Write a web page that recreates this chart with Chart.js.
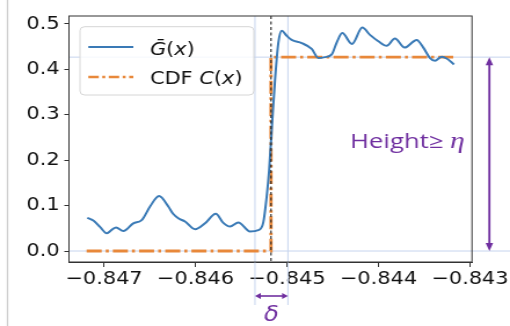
<!DOCTYPE html>
<html><head><meta charset="utf-8">
<script src="https://cdn.jsdelivr.net/npm/chart.js@4.4.0/dist/chart.umd.min.js"></script>
<style>
html,body{margin:0;padding:0;background:#fff;overflow:hidden}
#wrap{width:510px;height:326px;overflow:hidden}
canvas{display:block;transform:scaleX(1.159091);transform-origin:0 0}
</style></head><body><div id="wrap"><canvas id="c" width="440" height="326"></canvas></div>
<script>
// ---- data ----
const gX = [-0.847183,-0.847117,-0.847044,-0.846970,-0.846913,-0.846869,-0.846789,-0.846680,-0.846588,-0.846497,-0.846399,-0.846297,-0.846245,-0.846188,-0.846115,-0.846005,-0.845896,-0.845779,-0.845696,-0.845623,-0.845532,-0.845404,-0.845314,-0.845259,-0.845222,-0.845195,-0.845167,-0.845131,-0.845095,-0.845058,-0.845003,-0.844949,-0.844839,-0.844730,-0.844658,-0.844585,-0.844511,-0.844457,-0.844396,-0.844290,-0.844177,-0.844093,-0.844002,-0.843910,-0.843820,-0.843715,-0.843582,-0.843510,-0.843437,-0.843383,-0.843309,-0.843255,-0.843175];
const gY = [0.073,0.067,0.053,0.039,0.047,0.052,0.044,0.061,0.068,0.098,0.121,0.098,0.082,0.072,0.065,0.048,0.061,0.082,0.062,0.054,0.063,0.043,0.046,0.063,0.120,0.179,0.267,0.377,0.458,0.485,0.474,0.465,0.458,0.445,0.425,0.427,0.433,0.459,0.480,0.456,0.492,0.476,0.462,0.452,0.468,0.448,0.465,0.448,0.425,0.419,0.428,0.424,0.411];
const cdfX = [-0.84719,-0.845175,-0.845175,-0.84316];
const cdfY = [0,0,0.427,0.427];
const xTicks = [-0.847,-0.846,-0.845,-0.844,-0.843];
const yTicks = [0,0.1,0.2,0.3,0.4,0.5];
const xRange = [-0.847383,-0.842978];
const yRange = [-0.0242,0.5176];
const stepX = -0.845175;
const deltaLo = -0.84535, deltaHi = -0.84499;
const heightLevel = 0.427;
const seriesNames = ['Ḡ(x)','CDF C(x)'];
const heightLabel = 'Height≥ ';
const etaLabel = 'η';
const deltaLabel = 'δ';

const BLUE = '#3a7ab6', ORANGE = '#e8883a', PURPLE = '#7030a0', LIGHT = '#c6d4ee';

function arrowHead(ctx, x, y, dx, dy, len, w) {
  const nx = -dy, ny = dx;
  ctx.beginPath();
  ctx.moveTo(x, y);
  ctx.lineTo(x - dx*len + nx*w/2, y - dy*len + ny*w/2);
  ctx.lineTo(x - dx*len - nx*w/2, y - dy*len - ny*w/2);
  ctx.closePath(); ctx.fill();
}

const deco = {
  id: 'deco',
  beforeDatasetsDraw(chart) {
    const {ctx, chartArea: ca, scales: {x, y}} = chart;
    ctx.save();
    // page edge line
    ctx.strokeStyle = '#cccccc'; ctx.lineWidth = 1.3;
    ctx.beginPath(); ctx.moveTo(6.5, 0); ctx.lineTo(6.5, 326); ctx.stroke();
    // light reference lines
    ctx.strokeStyle = LIGHT; ctx.lineWidth = 1;
    const yh = y.getPixelForValue(heightLevel), y0 = y.getPixelForValue(0);
    ctx.beginPath();
    ctx.moveTo(ca.left, yh); ctx.lineTo(440, yh);
    ctx.moveTo(ca.left, y0); ctx.lineTo(440, y0);
    for (const v of [deltaLo, deltaHi]) {
      const px = x.getPixelForValue(v);
      ctx.moveTo(px, ca.top); ctx.lineTo(px, 305);
    }
    ctx.stroke();
    ctx.restore();
  },
  afterDatasetsDraw(chart) {
    const {ctx, chartArea: ca, scales: {x, y}} = chart;
    ctx.save();
    // black dashed step line
    const sx = x.getPixelForValue(stepX);
    ctx.strokeStyle = '#222'; ctx.lineWidth = 1.1; ctx.setLineDash([3, 2.5]);
    ctx.beginPath(); ctx.moveTo(sx, ca.top); ctx.lineTo(sx, ca.bottom); ctx.stroke();
    ctx.setLineDash([]);
    // frame
    ctx.strokeStyle = '#333'; ctx.lineWidth = 1;
    ctx.strokeRect(ca.left, ca.top, ca.right - ca.left, ca.bottom - ca.top);
    // legend
    const lx = ca.left + 9.5, ly = ca.top + 10.7, lw = 150, lh = 68.3;
    ctx.beginPath();
    ctx.roundRect(lx, ly, lw, lh, 4);
    ctx.fillStyle = 'rgba(255,255,255,0.8)'; ctx.fill();
    ctx.strokeStyle = '#d6d6d6'; ctx.lineWidth = 1; ctx.stroke();
    const r1 = 47, r2 = 77;
    ctx.strokeStyle = BLUE; ctx.lineWidth = 1.8;
    ctx.beginPath(); ctx.moveTo(76.2, r1); ctx.lineTo(115, r1); ctx.stroke();
    ctx.strokeStyle = ORANGE; ctx.lineWidth = 2.6; ctx.setLineDash([9, 3, 2.6, 3]);
    ctx.beginPath(); ctx.moveTo(76.2, r2); ctx.lineTo(115, r2); ctx.stroke();
    ctx.setLineDash([]);
    ctx.fillStyle = '#111'; ctx.textBaseline = 'alphabetic';
    const up = '18px "DejaVu Sans"', it = 'italic 18px "DejaVu Sans"';
    const parts = (arr, x0, yb) => { let cx = x0; for (const [t, f] of arr) { ctx.font = f; ctx.fillText(t, cx, yb); cx += ctx.measureText(t).width; } };
    parts([['Ḡ', it], ['(', up], ['x', it], [')', up]], 129.4, r1 + 7.5);
    parts([['CDF ', up], ['C', it], ['(', up], ['x', it], [')', up]], 129.4, r2 + 6.5);
    // purple height arrow
    const ax = ca.right + 15;
    const yh = y.getPixelForValue(heightLevel), y0 = y.getPixelForValue(0);
    ctx.strokeStyle = PURPLE; ctx.fillStyle = PURPLE; ctx.lineWidth = 1.8;
    ctx.beginPath(); ctx.moveTo(ax, yh + 6); ctx.lineTo(ax, y0 - 6); ctx.stroke();
    arrowHead(ctx, ax, yh, 0, -1, 8, 6.5);
    arrowHead(ctx, ax, y0, 0, 1, 8, 6.5);
    // Height label
    ctx.save();
    const tx = 302, tb = 148;
    ctx.font = '20px "Open Sans"';
    const w1 = ctx.measureText(heightLabel).width;
    ctx.font = 'italic 23px "Liberation Serif"';
    const w2 = ctx.measureText(etaLabel).width;
    const f = 99 / (w1 + w2);
    ctx.translate(tx, tb); ctx.scale(f, 1);
    ctx.font = '20px "Open Sans"'; ctx.fillText(heightLabel, 0, 0);
    ctx.font = 'italic 23px "Liberation Serif"'; ctx.fillText(etaLabel, w1, 0);
    ctx.restore();
    // delta arrow
    const dl = x.getPixelForValue(deltaLo), dh = x.getPixelForValue(deltaHi), dy = 296;
    ctx.lineWidth = 1.6;
    ctx.beginPath(); ctx.moveTo(dl + 4, dy); ctx.lineTo(dh - 4, dy); ctx.stroke();
    arrowHead(ctx, dl, dy, -1, 0, 5, 6);
    arrowHead(ctx, dh, dy, 1, 0, 5, 6);
    ctx.font = 'italic 21px "DejaVu Sans"'; ctx.textAlign = 'center';
    ctx.fillText(deltaLabel, (dl + dh) / 2, 321);
    ctx.restore();
  }
};

const fmtX = v => (v < 0 ? '\u2212' : '') + Math.abs(v).toFixed(3);

new Chart(document.getElementById('c'), {
  type: 'line',
  data: {
    datasets: [
      { label: seriesNames[0], data: gX.map((v, i) => ({x: v, y: gY[i]})), borderColor: BLUE, borderWidth: 2, pointRadius: 0, cubicInterpolationMode: 'monotone', fill: false },
      { label: seriesNames[1], data: cdfX.map((v, i) => ({x: v, y: cdfY[i]})), borderColor: ORANGE, borderWidth: 2.8, borderDash: [13, 3.5, 2.6, 3.5], pointRadius: 0, tension: 0, fill: false }
    ]
  },
  options: {
    responsive: false, animation: false, devicePixelRatio: 1,
    layout: { padding: { top: 16, right: 32.8, left: 0, bottom: 0 } },
    plugins: { legend: { display: false }, tooltip: { enabled: false } },
    scales: {
      x: {
        type: 'linear', position: 'bottom', min: xRange[0], max: xRange[1],
        afterBuildTicks: s => { s.ticks = xTicks.map(v => ({value: v})); },
        afterFit: s => { s.height = 64; s.paddingLeft = 0; s.paddingRight = 0; },
        ticks: { callback: fmtX, font: { family: 'DejaVu Sans', size: 18 }, color: '#111', padding: 2, maxRotation: 0, autoSkip: false },
        grid: { drawOnChartArea: false, drawTicks: true, tickLength: 5, color: '#333' },
        border: { color: '#333', width: 1 }
      },
      y: {
        type: 'linear', position: 'left', min: yRange[0], max: yRange[1],
        afterBuildTicks: s => { s.ticks = yTicks.map(v => ({value: v})); },
        afterFit: s => { s.width = 59.5; s.paddingTop = 0; s.paddingBottom = 0; },
        ticks: { callback: v => v.toFixed(1), font: { family: 'DejaVu Sans', size: 18 }, color: '#111', padding: 4 },
        grid: { drawOnChartArea: false, drawTicks: true, tickLength: 4, color: '#333' },
        border: { color: '#333', width: 1 }
      }
    }
  },
  plugins: [deco]
});
</script></body></html>
